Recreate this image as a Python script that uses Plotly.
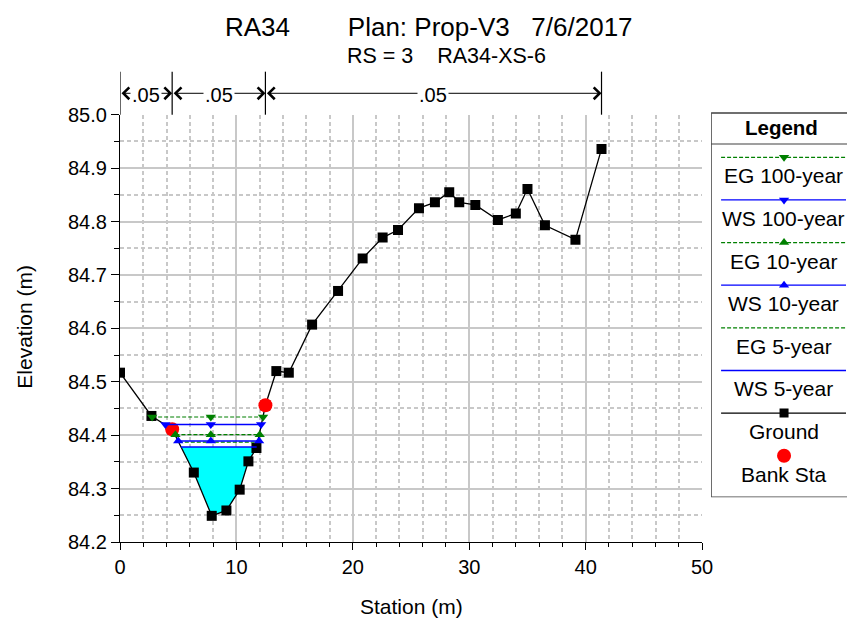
import plotly.graph_objects as go

# Ground profile
station = [0, 2.7, 4.48, 6.34, 7.88, 9.14, 10.28, 11.03, 11.72, 12.49, 13.43, 14.5,
           16.5, 18.73, 20.84, 22.56, 23.88, 25.68, 27.05, 28.28, 29.14, 30.52,
           32.46, 34.0, 35.0, 36.5, 39.12, 41.36]
elevation = [84.517, 84.436, 84.411, 84.33, 84.249, 84.259, 84.298, 84.351, 84.376,
             84.456, 84.52, 84.517, 84.607, 84.67, 84.731, 84.77, 84.784, 84.825,
             84.836, 84.855, 84.836, 84.831, 84.803, 84.815, 84.861, 84.793, 84.766,
             84.936]

# Bank stations
bank_sta = [4.48, 12.49]
bank_elev = [84.411, 84.456]

# Water surfaces / energy grades (left edge, mid, right edge)
eg100_x = [2.76, 7.8, 12.29]
eg100 = 84.434
ws100_x = [3.9, 7.8, 12.12]
ws100 = 84.42
eg10_x = [4.76, 7.8, 12.0]
eg10 = 84.401
ws10_x = [5.0, 7.8, 11.95]
ws10 = 84.389
eg5_x = [5.05, 11.9]
eg5 = 84.387
ws5_x = [5.24, 11.74]
ws5 = 84.378

# Manning's n
n_breaks = [0, 4.48, 12.49, 41.36]
n_values = [".05", ".05", ".05"]

NB = "\u00a0"
title = "RA34" + NB * 8 + "Plan: Prop-V3" + NB * 3 + "7/6/2017"
subtitle = "RS = 3" + NB * 4 + "RA34-XS-6"

FONT = "Liberation Sans, Arial, sans-serif"
GREEN = "#008000"
BLUE = "#0000ff"
GRID = "#c8c8c8"

fig = go.Figure()

# water fill under WS 5-year
fx = [ws5_x[0]] + [s for s in station if ws5_x[0] < s < ws5_x[1]] + [ws5_x[1]]
fy = [ws5] + [e for s, e in zip(station, elevation) if ws5_x[0] < s < ws5_x[1]] + [ws5]
fig.add_trace(go.Scatter(x=fx, y=fy, fill="toself", fillcolor="#00ffff",
                         mode="lines", line=dict(width=0), hoverinfo="skip"))

fig.add_trace(go.Scatter(x=station, y=elevation, mode="lines+markers",
                         line=dict(color="black", width=1.3),
                         marker=dict(symbol="square", size=10, color="black")))
fig.add_trace(go.Scatter(x=bank_sta, y=bank_elev, mode="markers",
                         marker=dict(symbol="circle", size=14, color="#ff0000")))

fig.add_trace(go.Scatter(x=ws5_x, y=[ws5] * len(ws5_x), mode="lines",
                         line=dict(color=BLUE, width=1.5)))
fig.add_trace(go.Scatter(x=eg5_x, y=[eg5] * len(eg5_x), mode="lines",
                         line=dict(color=GREEN, width=1.2, dash="4px,2px")))
fig.add_trace(go.Scatter(x=ws10_x, y=[ws10] * len(ws10_x), mode="lines+markers",
                         line=dict(color=BLUE, width=1.5),
                         marker=dict(symbol="triangle-up", size=9, color=BLUE)))
fig.add_trace(go.Scatter(x=eg10_x, y=[eg10] * len(eg10_x), mode="lines+markers",
                         line=dict(color=GREEN, width=1.2, dash="4px,2px"),
                         marker=dict(symbol="triangle-up", size=9, color=GREEN)))
fig.add_trace(go.Scatter(x=ws100_x, y=[ws100] * len(ws100_x), mode="lines+markers",
                         line=dict(color=BLUE, width=1.5),
                         marker=dict(symbol="triangle-down", size=9, color=BLUE)))
fig.add_trace(go.Scatter(x=eg100_x, y=[eg100] * len(eg100_x), mode="lines+markers",
                         line=dict(color=GREEN, width=1.2, dash="4px,2px"),
                         marker=dict(symbol="triangle-down", size=9, color=GREEN)))

# --- layout geometry, in page pixels (page body puts the figure 8px in) ---
OFF = 8
W, H = 855, 624 - OFF            # drawn width ends up a few px narrower than W
PL, PR, PT, PB = 119.5, 851, 112, 541.7      # paper edges on the page
pw, ph = PR - PL, PB - PT
plot_right = 702
plot_top = 114.7


def px_x(p):
    return (p - PL) / pw


def px_y(p):
    return (PB - p) / ph


annotations = []
shapes = []


def label(text, x, y, size, **kw):
    d = dict(x=px_x(x), y=px_y(y), xref="paper", yref="paper", text=text,
             showarrow=False, xanchor="center", yanchor="middle",
             font=dict(size=size, color="black"))
    d.update(kw)
    annotations.append(d)


# Manning's n dimension lines above the plot
for s in n_breaks:
    shapes.append(dict(type="line", xref="x", yref="paper", x0=s, x1=s,
                       y0=px_y(plot_top), y1=px_y(71.7),
                       line=dict(color="black", width=1.2)))
arrow_y = px_y(93.3)
for a, b, n in zip(n_breaks[:-1], n_breaks[1:], n_values):
    annotations.append(dict(x=b, y=arrow_y, xref="x", yref="paper", ax=a, ay=0,
                            axref="x", ayref="pixel", text="", showarrow=True,
                            arrowside="end+start", arrowhead=4, startarrowhead=4,
                            arrowsize=2.3, startarrowsize=2.3, arrowwidth=1,
                            arrowcolor="black", standoff=0, startstandoff=0))
    annotations.append(dict(x=(a + b) / 2, y=px_y(95), xref="x", yref="paper",
                            text=n, showarrow=False, bgcolor="white", borderpad=1,
                            xanchor="center", yanchor="middle",
                            font=dict(size=20, color="black")))

# titles
label(title, 429, 27, 26)
label(subtitle, 446, 56, 21.5)
label("Elevation (m)", 24, 327, 21, textangle=-90)
label("Station (m)", 411, 606, 21)

# --- custom legend box (x2/y2 in page pixel units) ---
leg_x0, leg_x1, leg_y0, leg_y1 = 711, 851, 113, 497
shapes.append(dict(type="rect", xref="x2", yref="y2", x0=leg_x0, x1=leg_x1,
                   y0=leg_y0, y1=leg_y1, line=dict(color="#404040", width=1.5)))
shapes.append(dict(type="line", xref="x2", yref="y2", x0=leg_x0, x1=leg_x1,
                   y0=144, y1=144, line=dict(color="#404040", width=1.2)))
annotations.append(dict(x=781, y=127, xref="x2", yref="y2", text="<b>Legend</b>",
                        showarrow=False, xanchor="center", yanchor="middle",
                        font=dict(size=20.5, color="black")))

legend_items = [
    ("EG 100-year", GREEN, "4px,2px", "triangle-down"),
    ("WS 100-year", BLUE, "solid", "triangle-down"),
    ("EG 10-year", GREEN, "4px,2px", "triangle-up"),
    ("WS 10-year", BLUE, "solid", "triangle-up"),
    ("EG 5-year", GREEN, "4px,2px", None),
    ("WS 5-year", BLUE, "solid", None),
    ("Ground", "black", "solid", "square"),
    ("Bank Sta", "#ff0000", None, "circle"),
]
for i, (name, color, dash, sym) in enumerate(legend_items):
    ly = 157.3 + 42.6 * i
    if dash is not None:
        fig.add_trace(go.Scatter(x=[721, 846], y=[ly, ly], xaxis="x2", yaxis="y2",
                                 mode="lines", line=dict(color=color, width=1.3, dash=dash),
                                 hoverinfo="skip"))
    if sym is not None:
        fig.add_trace(go.Scatter(x=[784], y=[ly], xaxis="x2", yaxis="y2", mode="markers",
                                 marker=dict(symbol=sym, size=14 if sym == "circle" else 9,
                                             color=color), hoverinfo="skip"))
    annotations.append(dict(x=783.5, y=ly + 18.5, xref="x2", yref="y2", text=name,
                            showarrow=False, xanchor="center", yanchor="middle",
                            font=dict(size=21, color="black")))

fig.update_layout(
    width=W, height=H,
    margin=dict(l=PL - OFF, r=1, t=PT - OFF, b=OFF + H - PB, pad=0),
    paper_bgcolor="white", plot_bgcolor="white",
    font=dict(family=FONT, size=20, color="black"),
    showlegend=False,
    annotations=annotations,
    shapes=shapes,
    xaxis=dict(domain=[0, px_x(plot_right)], range=[0, 50], dtick=10,
               ticks="outside", ticklen=7, tickcolor="black", showline=True,
               linecolor="black", linewidth=1.2, zeroline=False,
               showgrid=True, gridcolor=GRID, gridwidth=1.5,
               tickfont=dict(size=20),
               minor=dict(dtick=2, ticks="outside", ticklen=4, tickcolor="black",
                          showgrid=True, gridcolor=GRID, griddash="4px,3px")),
    yaxis=dict(domain=[0, px_y(plot_top)], range=[84.2, 85.0], dtick=0.1,
               tickformat=".1f", ticks="outside", ticklen=8, tickcolor="black",
               showline=True, linecolor="black", linewidth=1.2, zeroline=False,
               showgrid=True, gridcolor=GRID, gridwidth=1.5,
               tickfont=dict(size=20),
               minor=dict(dtick=0.05, ticks="outside", ticklen=5, tickcolor="black",
                          showgrid=True, gridcolor=GRID, griddash="4px,3px")),
    xaxis2=dict(domain=[px_x(leg_x0), 1.0], range=[leg_x0, PR], anchor="y2",
                visible=False, fixedrange=True),
    yaxis2=dict(domain=[px_y(leg_y1), 1.0], range=[leg_y1, PT], anchor="x2",
                visible=False, fixedrange=True),
)

fig.write_html("out.html")
